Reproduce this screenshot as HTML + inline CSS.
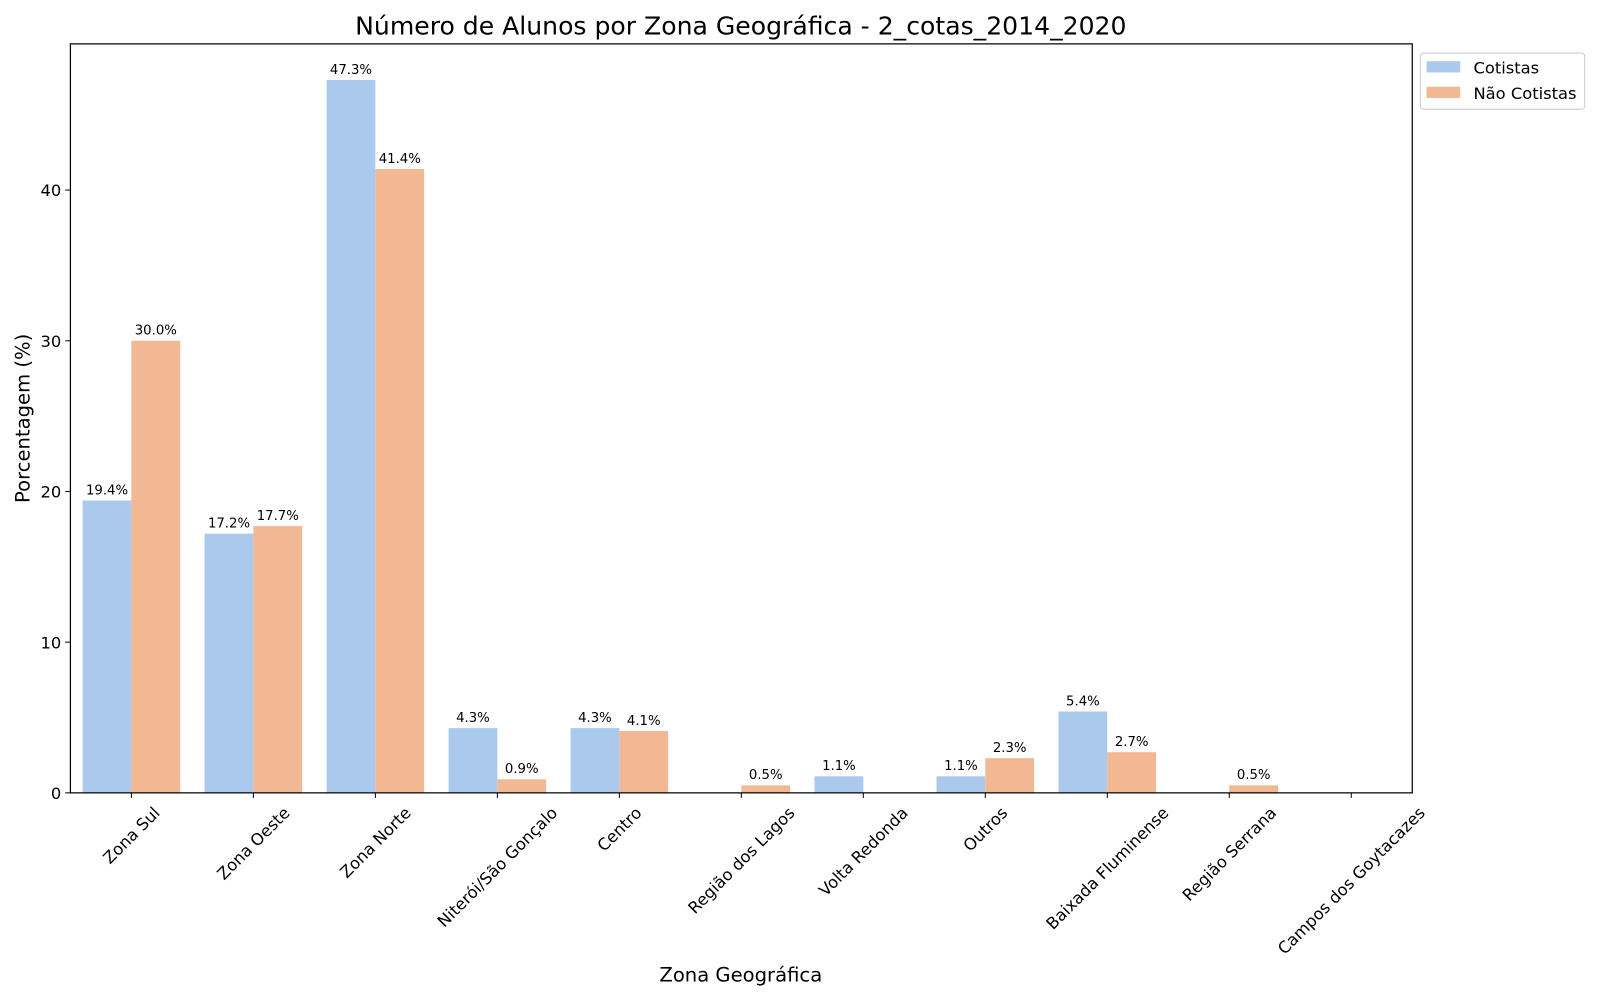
<!DOCTYPE html>
<html><head><meta charset="utf-8"><style>
html,body{margin:0;padding:0;background:#fff;}
svg text{font-family:"DejaVu Sans","Liberation Sans",sans-serif;fill:#000;}
</style></head><body>
<svg id="chart" width="1600" height="1000" viewBox="0 0 1568 980" xmlns="http://www.w3.org/2000/svg">
<text x="726" y="34" font-size="24.6" text-anchor="middle">Número de Alunos por Zona Geográfica - 2_cotas_2014_2020</text>
<g id="bars"></g>
<g id="axes"></g>
<text x="726" y="962" font-size="19.2" text-anchor="middle">Zona Geográfica</text>
<text transform="translate(29,410) rotate(-90)" font-size="19.2" text-anchor="middle">Porcentagem (%)</text>
<g>
<rect x="1392" y="52" width="161" height="55" rx="3" fill="#fff" stroke="#ccc"/>
<rect x="1398" y="60" width="33" height="11" fill="#abc9ed"/>
<text x="1444" y="72" font-size="16">Cotistas</text>
<rect x="1398" y="85" width="33" height="11" fill="#f1b893"/>
<text x="1444" y="97" font-size="16">Não Cotistas</text>
</g>
</svg>
<script>
const categories = ["Zona Sul","Zona Oeste","Zona Norte","Niterói/São Gonçalo","Centro","Região dos Lagos","Volta Redonda","Outros","Baixada Fluminense","Região Serrana","Campos dos Goytacazes"];
const cotistas = [19.4,17.2,47.3,4.3,4.3,0,1.1,1.1,5.4,0,0];
const naoCotistas = [30.0,17.7,41.4,0.9,4.1,0.5,0,2.3,2.7,0.5,0];
const yTicks = [0,10,20,30,40];

const NS="http://www.w3.org/2000/svg";
const L=69,R=1384,T=43,B=777,yMax=49.7;
const step=(R-L)/categories.length;
const x=i=>L+step*(i+0.5);
const y=v=>B-(v/yMax)*(B-T);
const bw=step*0.4;
function mk(tag,attrs,parent,txt){const e=document.createElementNS(NS,tag);for(const k in attrs)e.setAttribute(k,attrs[k]);if(txt!==undefined)e.textContent=txt;parent.appendChild(e);return e;}
const bars=document.getElementById('bars'),axes=document.getElementById('axes');
function series(vals,off,color,nm){
  vals.forEach((v,i)=>{
    if(v<=0)return;
    const x0=x(i)+off;
    const r=mk('rect',{x:x0,y:y(v),width:bw,height:B-y(v),fill:color},bars);
    
    
    const t=mk('text',{x:x0+bw/2,y:y(v)-6,'font-size':13,'text-anchor':'middle'},bars,v.toFixed(1)+'%');
    
    
  });
}
series(cotistas,-bw,'#abc9ed','cotistas');
series(naoCotistas,0,'#f1b893','nao-cotistas');
const frame=mk('rect',{x:L,y:T,width:R-L,height:B-T,fill:'none',stroke:'#000','stroke-width':1.2},axes);


yTicks.forEach(v=>{
  mk('line',{x1:L-5,x2:L,y1:y(v),y2:y(v),stroke:'#000'},axes);
  const t=mk('text',{x:L-9,y:y(v)+6,'font-size':16,'text-anchor':'end'},axes,String(v));
  
  
});
categories.forEach((c,i)=>{
  mk('line',{x1:x(i),x2:x(i),y1:B,y2:B+5,stroke:'#000'},axes);
  const t=mk('text',{'font-size':16,'text-anchor':'middle'},axes,c);
  const w=t.getComputedTextLength();
  const h=16;
  const cy=B+11+(w+h)*0.7071/2;
  t.setAttribute('transform',`translate(${x(i)},${cy}) rotate(-45) translate(0,${h*0.35})`);
  
  
});
</script>
</body></html>
